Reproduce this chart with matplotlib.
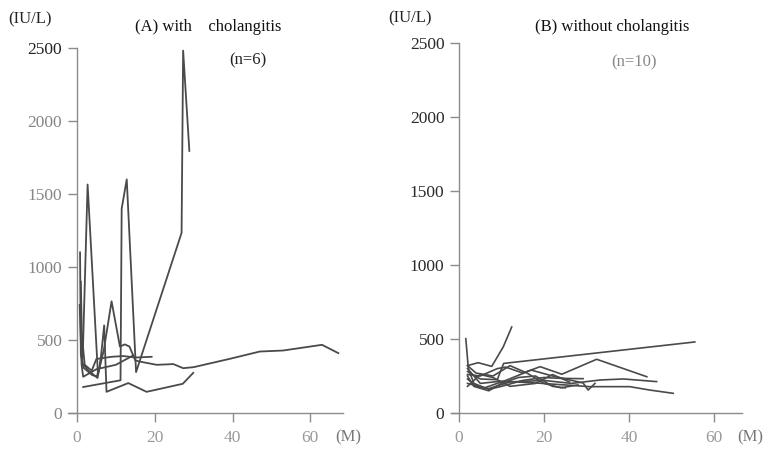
import matplotlib
matplotlib.use("Agg")
import matplotlib.pyplot as plt

plt.rcParams['font.family'] = ['Liberation Serif', 'DejaVu Serif']

W, H = 767, 449

# ---------------- data: panel A (with cholangitis, n=6) ----------------
a1_x = [0.8, 1.0, 1.7, 3.9, 5.1, 5.9, 7.0, 7.6, 13.2, 17.9, 27.2, 29.9]
a1_y = [1100, 400, 310, 260, 250, 316, 600, 145, 205, 145, 200, 275]
a2_x = [1.5, 2.74, 5.4, 6.9, 8.9, 11.05, 12.3, 13.5, 15.0, 16.2, 20.5, 24.8, 27.3, 30.0, 39.3, 47.0, 53.0, 63.0, 67.2]
a2_y = [400, 1565, 265, 430, 765, 455, 470, 455, 360, 352, 330, 335, 307, 314, 371, 421, 428, 467, 410]
a3_x = [1.6, 11.2, 11.5, 12.8, 15.2, 26.9, 27.3, 28.9]
a3_y = [178, 224, 1400, 1600, 280, 1234, 2482, 1795]
a4_x = [0.7, 1.2, 1.6, 5.0, 10.0, 14.5]
a4_y = [740, 330, 248, 300, 330, 395]
a5_x = [1.2, 2.0, 3.8, 5.0, 8.9, 12.0, 15.0, 19.2]
a5_y = [550, 330, 290, 370, 385, 390, 380, 385]
a6_x = [1.0, 1.4, 3.0, 5.3, 6.2]
a6_y = [900, 340, 290, 240, 380]
series_a = [(a1_x, a1_y), (a2_x, a2_y), (a3_x, a3_y), (a4_x, a4_y), (a5_x, a5_y), (a6_x, a6_y)]

# ---------------- data: panel B (without cholangitis, n=10) ----------------
b1_x = [1.6, 2.2, 3.5, 7, 10, 15, 20, 23.8, 29.2]
b1_y = [502, 300, 200, 160, 180, 220, 240, 234, 232]
b2_x = [2, 4.5, 7.7, 10.4, 12.4]
b2_y = [320, 340, 315, 446, 581]
b3_x = [2, 5, 9, 10.5, 55.5]
b3_y = [280, 230, 225, 335, 480]
b4_x = [2, 5, 9, 11, 15, 19.1, 24.2, 32.4, 44.2]
b4_y = [260, 250, 300, 310, 270, 313, 262, 363, 245]
b5_x = [2, 4, 7, 12, 20, 26.5, 33.2, 38.7, 46.5]
b5_y = [230, 180, 165, 210, 220, 200, 223, 230, 212]
b6_x = [2, 5, 10, 19.1, 30.8, 40.2, 44.9, 50.4]
b6_y = [300, 200, 215, 201, 178, 178, 155, 133]
b7_x = [2, 6, 11, 17, 22, 29.2, 30.4, 32]
b7_y = [200, 170, 220, 290, 250, 203, 155, 200]
b8_x = [2, 4, 8, 12, 16, 20, 24, 28]
b8_y = [320, 270, 250, 320, 270, 200, 170, 190]
b9_x = [2, 5, 8, 12, 18, 22, 26]
b9_y = [180, 260, 240, 180, 200, 260, 210]
b10_x = [2, 3.5, 7, 10, 14, 18, 22, 25]
b10_y = [250, 180, 150, 200, 240, 250, 180, 170]
series_b = [(b1_x, b1_y), (b2_x, b2_y), (b3_x, b3_y), (b4_x, b4_y), (b5_x, b5_y),
            (b6_x, b6_y), (b7_x, b7_y), (b8_x, b8_y), (b9_x, b9_y), (b10_x, b10_y)]

y_ticks = [0, 500, 1000, 1500, 2000, 2500]
x_ticks = [0, 20, 40, 60]

fig = plt.figure(figsize=(W / 100, H / 100), dpi=100)


def px_axes(l, r, b, t):
    return fig.add_axes([l / W, 1 - b / H, (r - l) / W, (b - t) / H])


def style(ax, xlim, ycol):
    ax.set_xlim(*xlim)
    ax.set_ylim(0, 2500)
    for s in ('top', 'right'):
        ax.spines[s].set_visible(False)
    ax.spines['left'].set_position(('data', 0))
    for s in ('left', 'bottom'):
        ax.spines[s].set_color('#8c8c8c')
        ax.spines[s].set_linewidth(1.0)
    ax.set_yticks(y_ticks)
    ax.set_xticks(x_ticks)
    ax.tick_params(axis='y', direction='out', length=6.5, width=1.0, color='#8c8c8c',
                   labelsize=12.5, labelcolor=ycol, pad=4)
    ax.tick_params(axis='x', direction='out', length=6.5, width=1.0, color='#8c8c8c',
                   labelsize=12.5, labelcolor='#9a9a9a', pad=6)
    ax.patch.set_alpha(0)


axA = px_axes(68, 343, 413, 48)
style(axA, (-2.3, 68.4), '#858585')
for xs, ys in series_a:
    axA.plot(xs, ys, color='#4a4a4a', lw=1.3)
axA.get_yticklabels()[-1].set_color('#222222')

axB = px_axes(452, 742, 413, 43)
style(axB, (-1.65, 66.6), '#2a2a2a')
for xs, ys in series_b:
    axB.plot(xs, ys, color='#4a4a4a', lw=1.2)


def ftext(x, y, s, **kw):
    fig.text(x / W, 1 - y / H, s, va='center', **kw)


ftext(8, 19, '(IU/L)', fontsize=12, color='#222222', ha='left')
ftext(208, 27, '(A) with    cholangitis', fontsize=12, color='#111111', ha='center')
ftext(248, 60, '(n=6)', fontsize=12, color='#222222', ha='center')
ftext(348, 437, '(M)', fontsize=12, color='#777777', ha='center')

ftext(388, 18, '(IU/L)', fontsize=12, color='#222222', ha='left')
ftext(612, 27, '(B) without cholangitis', fontsize=12, color='#111111', ha='center')
ftext(634, 62, '(n=10)', fontsize=12, color='#888888', ha='center')
ftext(750, 437, '(M)', fontsize=12, color='#777777', ha='center')

fig.savefig('out.png', dpi=100)
